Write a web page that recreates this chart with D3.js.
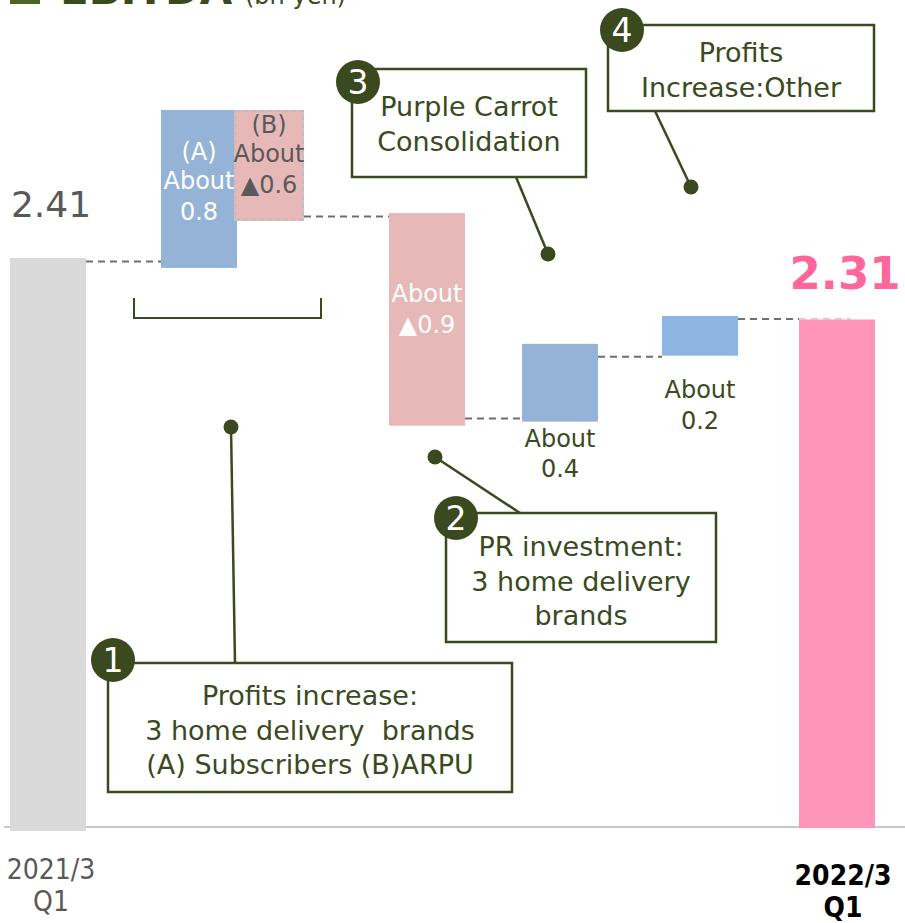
<!DOCTYPE html>
<html>
<head>
<meta charset="utf-8">
<script src="https://cdn.jsdelivr.net/npm/d3@7"></script>
<style>
  body { margin: 0; background: #fff; }
  svg { display: block; font-family: "DejaVu Sans", Verdana, sans-serif; }
  text { white-space: pre; }
</style>
</head>
<body>
<svg id="chart" width="905" height="923"></svg>
<script>
// EBITDA bridge 2021/3 Q1 -> 2022/3 Q1 (bn yen)

// Data
const steps = ["start", "subscribers", "arpu", "purpleCarrot", "prInvest", "other", "end"];
const barLow  = [0, 2.368, 2.567, 1.701, 1.718, 1.997, 0];
const barHigh = [2.41, 3.036, 3.036, 2.600, 2.047, 2.165, 2.150];
const barColors = ["#d9d9d9", "#95b3d7", "#e6b9b8", "#e6b8b7", "#95b3d7", "#8eb4e3", "#ff95b9"];

// dashed connectors: from step, to step, level
const connFrom  = ["start", "arpu", "purpleCarrot", "prInvest", "other"];
const connTo    = ["subscribers", "purpleCarrot", "prInvest", "other", "end"];
const connLevel = [2.395, 2.585, 1.731, 1.992, 2.152];

const totalLabels = ["2.41", "2.31"];
const axisLabels = [["2021/3", "Q1"], ["2022/3", "Q1"]];

// step labels
const stepLabels = {
  subscribers: ["(A)", "About", "0.8"],
  arpu: ["(B)", "About", "\u25B20.6"],
  purpleCarrot: ["About", "\u25B20.9"],
  prInvest: ["About", "0.4"],
  other: ["About", "0.2"]
};

// callout notes
const noteNums = ["1", "2", "3", "4"];
const noteLines = [
  ["Profits increase:", "3 home delivery  brands", "(A) Subscribers (B)ARPU"],
  ["PR investment:", "3 home delivery", "brands"],
  ["Purple Carrot", "Consolidation"],
  ["Profits", "Increase:Other"]
];

const OLIVE = "#3b4a1e";
const GREY_TXT = "#595959";
const BAR_W = 76;

const svg = d3.select("#chart");

// scales
const y = d3.scaleLinear().domain([0, 2.41]).range([828, 258]);
const x = d3.scaleOrdinal().domain(steps).range([48, 199, 269, 427, 560, 700, 837]);
const barWidth = d => d === "arpu" ? 70 : BAR_W;

// title (cut off at top, as in the source)
svg.append("rect").attr("x", 10).attr("y", -20).attr("width", 30).attr("height", 24).attr("fill", "#4f6228");
svg.append("text").attr("x", 60).attr("y", 4).attr("font-size", 42).attr("font-weight", "bold")
  .attr("fill", OLIVE).text("EBITDA");
svg.append("text").attr("x", 245).attr("y", 4).attr("font-size", 24)
  .attr("fill", OLIVE).text("(bn yen)");

// axis line
svg.append("line").attr("x1", 4).attr("x2", 905).attr("y1", 827).attr("y2", 827)
  .attr("stroke", "#c8c8c8").attr("stroke-width", 2);

// connectors
connFrom.forEach((f, i) => {
  const t = connTo[i];
  const x1 = x(f) + barWidth(f) / 2;
  const x2 = x(t) - barWidth(t) / 2;
  svg.append("line")
    .attr("x1", x1).attr("x2", x2)
    .attr("y1", y(connLevel[i])).attr("y2", y(connLevel[i]))
    .attr("stroke", "#6f6f6f").attr("stroke-width", 2).attr("stroke-dasharray", "7,5");
});

// bars
svg.append("g").selectAll("rect")
  .data(steps)
  .enter().append("rect")
  .attr("x", d => x(d) - barWidth(d) / 2)
  .attr("width", d => barWidth(d))
  .attr("y", (d, i) => y(barHigh[i]))
  .attr("height", (d, i) => y(barLow[i]) - y(barHigh[i]) + (d === "start" ? 3 : 0))
  .attr("fill", (d, i) => barColors[i]);

// ARPU bar has a dashed grey outline
svg.append("rect")
  .attr("x", x("arpu") - barWidth("arpu") / 2 + 1)
  .attr("y", y(barHigh[2]) + 1)
  .attr("width", barWidth("arpu") - 2)
  .attr("height", y(barLow[2]) - y(barHigh[2]) - 2)
  .attr("fill", "none").attr("stroke", "#bfbfbf").attr("stroke-width", 2).attr("stroke-dasharray", "5,3");

// faint continuation of the last connector over the end bar
const endLeft = x("end") - BAR_W / 2;
svg.append("line")
  .attr("x1", endLeft).attr("x2", endLeft + 52)
  .attr("y1", y(connLevel[4])).attr("y2", y(connLevel[4]))
  .attr("stroke", "#e4c2ce").attr("stroke-width", 2).attr("stroke-dasharray", "7,5");

// total labels
svg.append("text").attr("x", 51).attr("y", 217).attr("text-anchor", "middle")
  .attr("font-size", 36).attr("fill", GREY_TXT).text(totalLabels[0]);
svg.append("text").attr("x", 845).attr("y", 289).attr("text-anchor", "middle")
  .attr("font-size", 45).attr("font-weight", "bold").attr("fill", "#ff6699").text(totalLabels[1]);

// step labels
function stepText(key, ys, color, size) {
  stepLabels[key].forEach((t, i) => {
    svg.append("text").attr("x", x(key)).attr("y", ys[i]).attr("text-anchor", "middle")
      .attr("font-size", size).attr("fill", color).text(t);
  });
}
stepText("subscribers", [160, 189, 220], "#ffffff", 24);
stepText("arpu", [133, 162, 193], GREY_TXT, 24);
stepText("purpleCarrot", [302, 333], "#ffffff", 24);
stepText("prInvest", [447, 477], OLIVE, 24);
stepText("other", [398, 429], OLIVE, 24);

// bracket under (A)+(B)
svg.append("path")
  .attr("d", "M134,298 V318 H321 V298")
  .attr("fill", "none").attr("stroke", OLIVE).attr("stroke-width", 2);

// axis labels
const axisFont = "'Liberation Sans Narrow', 'DejaVu Sans Condensed', sans-serif";
axisLabels[0].forEach((t, i) => {
  svg.append("text").attr("x", 51).attr("y", 879 + i * 32).attr("text-anchor", "middle")
    .attr("font-family", axisFont).attr("font-size", 28).attr("fill", GREY_TXT).text(t);
});
axisLabels[1].forEach((t, i) => {
  svg.append("text").attr("x", 843).attr("y", 885 + i * 32).attr("text-anchor", "middle")
    .attr("font-family", axisFont).attr("font-size", 28).attr("font-weight", "bold")
    .attr("fill", "#000").text(t);
});

// callouts: box, leader line with dot, numbered circle
const noteBox = [
  {x0: 108, y0: 663, x1: 512, y1: 792, base: 705, lead: [235, 663, 231, 427], circ: [113, 660]},
  {x0: 446, y0: 513, x1: 716, y1: 642, base: 556, lead: [520, 513, 435, 457], circ: [456, 518]},
  {x0: 352, y0: 69,  x1: 586, y1: 177, base: 116, lead: [516, 177, 548, 254], circ: [358, 82]},
  {x0: 608, y0: 25,  x1: 874, y1: 111, base: 62,  lead: [655, 111, 691, 187], circ: [622, 30]}
];

noteBox.forEach((b, i) => {
  const g = svg.append("g");
  g.append("line")
    .attr("x1", b.lead[0]).attr("y1", b.lead[1]).attr("x2", b.lead[2]).attr("y2", b.lead[3])
    .attr("stroke", OLIVE).attr("stroke-width", 2.5);
  g.append("circle").attr("cx", b.lead[2]).attr("cy", b.lead[3]).attr("r", 7.5).attr("fill", OLIVE);
  g.append("rect")
    .attr("x", b.x0).attr("y", b.y0).attr("width", b.x1 - b.x0).attr("height", b.y1 - b.y0)
    .attr("fill", "#fff").attr("stroke", OLIVE).attr("stroke-width", 2.5);
  noteLines[i].forEach((t, j) => {
    g.append("text").attr("x", (b.x0 + b.x1) / 2).attr("y", b.base + j * 34.5)
      .attr("text-anchor", "middle").attr("font-size", 27).attr("fill", OLIVE).text(t);
  });
  g.append("circle").attr("cx", b.circ[0]).attr("cy", b.circ[1]).attr("r", 22).attr("fill", OLIVE);
  g.append("text").attr("x", b.circ[0]).attr("y", b.circ[1] + 12).attr("text-anchor", "middle")
    .attr("font-size", 33).attr("fill", "#fff").text(noteNums[i]);
});
</script>
</body>
</html>
